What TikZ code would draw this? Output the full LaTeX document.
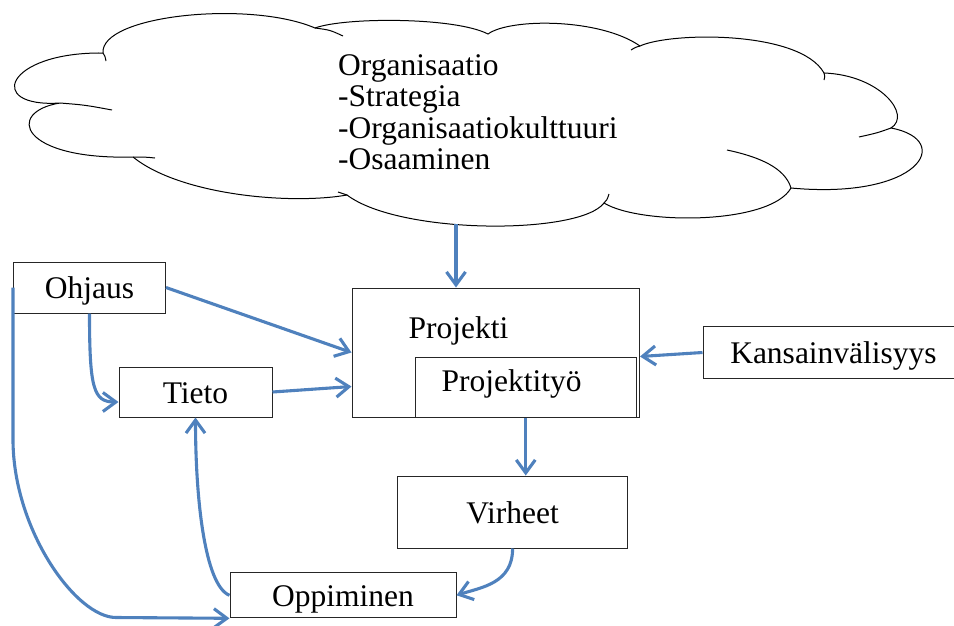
\documentclass[tikz,border=0pt]{standalone}
\usepackage{fontspec}
\setmainfont{Liberation Serif}
\usetikzlibrary{arrows.meta, positioning}
\definecolor{arrowblue}{RGB}{79,129,189}

\begin{document}
\begin{tikzpicture}[
    x=1pt, y=-1pt,
    font=\fontsize{31.5}{31.5}\selectfont,
    box/.style={draw=black!85, line width=1pt, fill=white, inner sep=0pt,
      text height=22pt, text depth=0pt},
    link/.style={draw=arrowblue, line width=3.1pt,
      -{Straight Barb[length=13pt, width=19pt]}},
    puff/.style={draw=black, line width=1pt}]

  \useasboundingbox (0,0) rectangle (954,625);

  % cloud
  \draw[puff, fill=white] (60,103)
    .. controls (-15,108) and (5,52) .. (103,53)
    .. controls (100,15) and (250,0) .. (315,28)
    .. controls (345,17) and (455,17) .. (488,34)
    .. controls (510,18) and (600,18) .. (640,46)
    .. controls (670,32) and (800,30) .. (824,73)
    .. controls (880,75) and (912,115) .. (891,128)
    .. controls (955,140) and (920,200) .. (791,188)
    .. controls (770,225) and (640,225) .. (604,203)
    .. controls (580,235) and (400,235) .. (347,195)
    .. controls (290,205) and (180,195) .. (133,157)
    .. controls (20,160) and (5,112) .. (60,103) -- cycle;
  \draw[puff] (103,53) .. controls (105,56) .. (106,61);
  \draw[puff] (315,28) .. controls (330,30) .. (343,36);
  \draw[puff] (640,46) .. controls (636,47) .. (631,50);
  \draw[puff] (824,73) .. controls (825,76) .. (824,80);
  \draw[puff] (891,128) .. controls (877,133) .. (859,137);
  \draw[puff] (791,188) .. controls (785,168) and (760,157) .. (727,150);
  \draw[puff] (604,203) .. controls (607,200) .. (609,194);
  \draw[puff] (347,195) .. controls (343,194) .. (338,192);
  \draw[puff] (133,157) .. controls (145,157) .. (155,158);
  \draw[puff] (60,103) .. controls (85,105) .. (112,110);
  \node[anchor=north west, align=left, inner sep=0pt] (org) at (338,54)
    {Organisaatio\\-Strategia\\-Organisaatiokulttuuri\\-Osaaminen};
  \coordinate (cloud-bottom) at (456,224);

  % boxes
  \node[box, minimum width=152pt, minimum height=51pt] (ohjaus) at (89.5,287.5) {Ohjaus};
  \node[box, minimum width=153pt, minimum height=50pt] (tieto) at (195.5,392) {Tieto};
  \node[box, minimum width=287.5pt, minimum height=129pt] (proj) at (495.75,352.5) {};
  \node[box, minimum width=221.5pt, minimum height=60pt, anchor=south east]
    (proj-work) at ([xshift=-3pt]proj.south east) {};
  \node[anchor=base west] (proj-text) at (405,338) {Projekti};
  \node[anchor=base west] (proj-work-text) at (438,391.7) {Projektityö};
  \node[box, right=62.5pt of proj, minimum width=261pt, minimum height=51.6pt] (kans) {Kansainvälisyys};
  \node[box, minimum width=230pt, minimum height=72pt] (virheet) at (512.6,512) {Virheet};
  \node[box, minimum width=226pt, minimum height=45pt] (oppiminen) at (343,595.3) {Oppiminen};

  % arrows
  \draw[link] (cloud-bottom) -- (cloud-bottom |- proj.north);
  \draw[link] (ohjaus.east) -- (proj.west);
  \draw[link] (tieto.east) -- ([yshift=-34pt]proj.west);
  \draw[link] (kans.west) -- ([yshift=-4pt]proj.east);
  \draw[link] (proj-work.south) -- (proj-work.south |- virheet.north);
  \draw[link] (virheet.south) .. controls +(0,35) and +(25,-8) .. (oppiminen.east);
  \draw[link] (ohjaus.south) .. controls +(0,75) and +(-25,0) .. ([yshift=-10pt]tieto.west);
  \draw[link] (oppiminen.west) .. controls +(-25,-10) and +(0,80) .. (tieto.south);
  \draw[link] (ohjaus.west) -- ++(0,152)
    .. controls +(0,90) and +(-40,0) .. ++(103,178) -- (oppiminen.south west);
\end{tikzpicture}
\end{document}
